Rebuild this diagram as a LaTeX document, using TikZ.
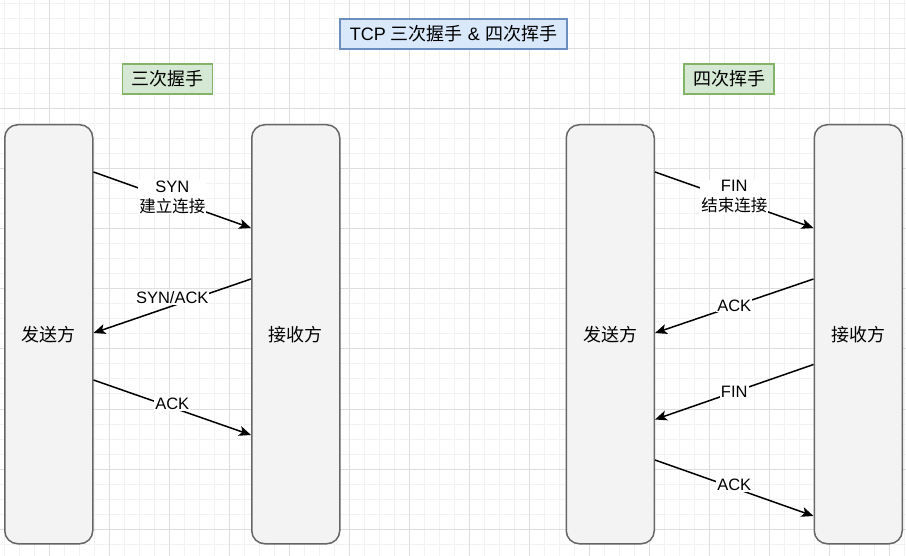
\documentclass[tikz,border=0pt]{standalone}
\usepackage{fontspec}
\setmainfont{Liberation Sans}
\newfontfamily\cjk{Noto Sans CJK SC}
\usetikzlibrary{arrows.meta,calc}
\definecolor{gridminor}{HTML}{F2F2F2}
\definecolor{gridmajor}{HTML}{DEDEDE}
\definecolor{boxfill}{HTML}{F3F3F3}
\definecolor{boxline}{HTML}{666666}
\definecolor{bluefill}{HTML}{DAE8FC}
\definecolor{blueline}{HTML}{6C8EBF}
\definecolor{greenfill}{HTML}{D5E8D4}
\definecolor{greenline}{HTML}{82B366}
\begin{document}
\begin{tikzpicture}[x=1pt,y=-1pt,
  party/.style={draw=boxline, fill=boxfill, line width=1.5pt, rounded corners=13pt,
    minimum width=88pt, minimum height=419pt, anchor=north west, inner sep=0pt,
    font=\cjk\fontsize{18}{22}\selectfont},
  titlebox/.style={draw=blueline, fill=bluefill, line width=1.5pt, minimum width=227pt,
    minimum height=30pt, inner sep=0pt, font=\fontsize{18}{22}\selectfont},
  headbox/.style={draw=greenline, fill=greenfill, line width=1.5pt, minimum width=90pt,
    minimum height=30pt, inner sep=0pt, font=\cjk\fontsize{18}{22}\selectfont},
  msg/.style={line width=1.5pt, -{Stealth[length=12pt,width=10pt,inset=3pt]}},
  lbl/.style={fill=white, inner sep=1pt, align=center, font=\fontsize{16.5}{20}\selectfont},
  gmin/.style={draw=gridminor, line width=1pt},
  gmaj/.style={draw=gridmajor, line width=1pt}
]
\useasboundingbox (0,0) rectangle (906,556);
\fill[white] (0,0) rectangle (906,556);
% grid
\foreach \v in {4,19,...,906} {
  \draw[gmin] (\v,0) -- (\v,556);
}
\foreach \v in {4,19,...,556} {
  \draw[gmin] (0,\v) -- (906,\v);
}
\foreach \v in {49,109,...,906} {
  \draw[gmaj] (\v,0) -- (\v,556);
}
\foreach \v in {49,109,...,556} {
  \draw[gmaj] (0,\v) -- (906,\v);
}

% titles
\node[titlebox] (title) at (453.5,34) {TCP {\cjk 三次握手} \& {\cjk 四次挥手}};
\node[headbox] (h3) at (167.7,79) {三次握手};
\node[headbox] (h4) at (729.2,79) {四次挥手};

% parties
\node[party] (s1) at (4,124) {发送方};
\node[party] (r1) at (251,124) {接收方};
\node[party] (s2) at (565.5,124) {发送方};
\node[party] (r2) at (813.5,124) {接收方};

% three-way handshake
\draw[msg] ($(s1.north east)+(0,48)$) -- ($(r1.north west)+(0,104)$)
  node[lbl, pos=0.5, yshift=3pt] {SYN\\{\cjk 建立连接}};
\draw[msg] ($(r1.north west)+(0,155)$) -- ($(s1.north east)+(0,209)$)
  node[lbl, pos=0.5, yshift=8.5pt] {SYN/ACK};
\draw[msg] ($(s1.north east)+(0,256)$) -- ($(r1.north west)+(0,311)$)
  node[lbl, pos=0.5, yshift=3.5pt] {ACK};

% four-way handshake
\draw[msg] ($(s2.north east)+(0,48)$) -- ($(r2.north west)+(0,104)$)
  node[lbl, pos=0.5, yshift=3pt] {FIN\\{\cjk 结束连接}};
\draw[msg] ($(r2.north west)+(0,155)$) -- ($(s2.north east)+(0,209)$)
  node[lbl, pos=0.5, yshift=0.5pt] {ACK};
\draw[msg] ($(r2.north west)+(0,240.5)$) -- ($(s2.north east)+(0,295.5)$)
  node[lbl, pos=0.5] {FIN};
\draw[msg] ($(s2.north east)+(0,336)$) -- ($(r2.north west)+(0,392)$)
  node[lbl, pos=0.5, yshift=3pt] {ACK};
\end{tikzpicture}
\end{document}
